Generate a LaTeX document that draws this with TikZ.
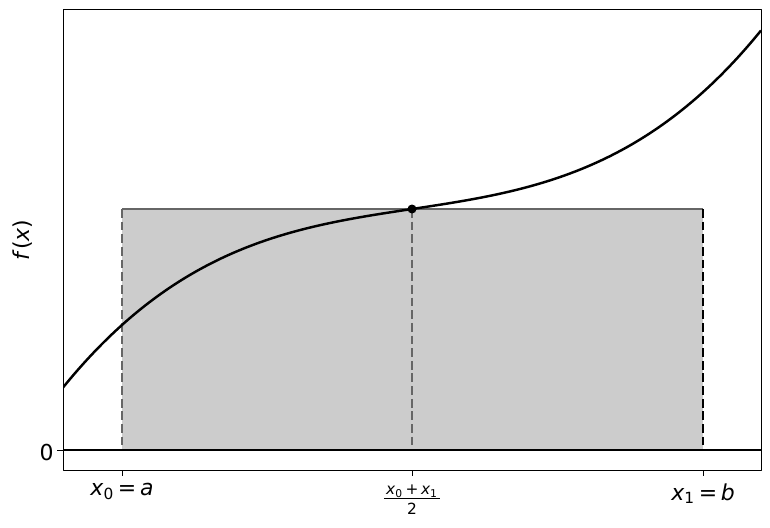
\documentclass[tikz,border=0pt]{standalone}
\usepackage{fontspec}
\setmainfont{DejaVu Sans}
\definecolor{rectgray}{gray}{0.8}
\definecolor{edgegray}{gray}{0.4}
\newcommand\lo[1]{\textsubscript{#1}}
\begin{document}
\begin{tikzpicture}[x=0.02cm, y=-0.02cm, font=\fontsize{12.5}{15}\selectfont, line join=round, line cap=butt]
	\tikzset{lbl/.style={inner sep=0pt, anchor=north},
		gdash/.style={dash pattern=on 5pt off 2.2pt}}
	\def\xl{63}
	\def\xr{761}
	\def\yt{9}
	\def\yb{470}
	\def\yz{450}
	\def\f(#1){241+0.151*((#1)-412)+2.96*(((#1)-412)/100)^3}
	\useasboundingbox (0,0) rectangle (770,527);
	% shaded rectangle
	\fill[rectgray] (122,209) rectangle (703,\yz);
	\draw[edgegray, line width=1.5pt] (122,209)--(703,209);
	\draw[edgegray, line width=1.5pt, gdash] (122,209)--(122,\yz);
	\draw[edgegray, line width=1.5pt, gdash] (412,209)--(412,\yz);
	\draw[black, line width=1.1pt, gdash] (703,209)--(703,\yz);
	% zero line and curve
	\draw[line width=1.7pt] (\xl,\yz)--(\xr,\yz);
	\begin{scope}
		\clip (\xl,\yt) rectangle (\xr,\yb);
		\draw[line width=1.4pt, smooth, samples=120, domain=\xl:\xr] plot (\x,{\yz-(\f(\x))});
	\end{scope}
	\fill (412,209) circle (4.5);
	% axes
	\draw[line width=0.55pt] (\xl,\yt) rectangle (\xr,\yb);
	\foreach \x in {122,412,703}
	\draw[line width=0.55pt] (\x,\yb)--(\x,476);
	\draw[line width=0.55pt] (\xl,\yz)--(57,\yz);
	\node[lbl] (xa) at (122,483) {\textit{x}\lo{0}\,=\,\textit{a}};
	\node[lbl] (xm) at (412,482) {\fontsize{8.75}{10}\selectfont\setlength{\tabcolsep}{1pt}%
		\begin{tabular}{c}\textit{x}\lo{0}\,+\,\textit{x}\lo{1}\\[-1pt]\hline\rule{0pt}{9pt}2\end{tabular}};
	\node[lbl] (xb) at (703,483) {\textit{x}\lo{1}\,=\,\textit{b}};
	\node[inner sep=0pt, anchor=east] (zero) at (54,452) {0};
	\node[rotate=90] (fx) at (23,240) {\textit{f}(\textit{x})};
\end{tikzpicture}
\end{document}
